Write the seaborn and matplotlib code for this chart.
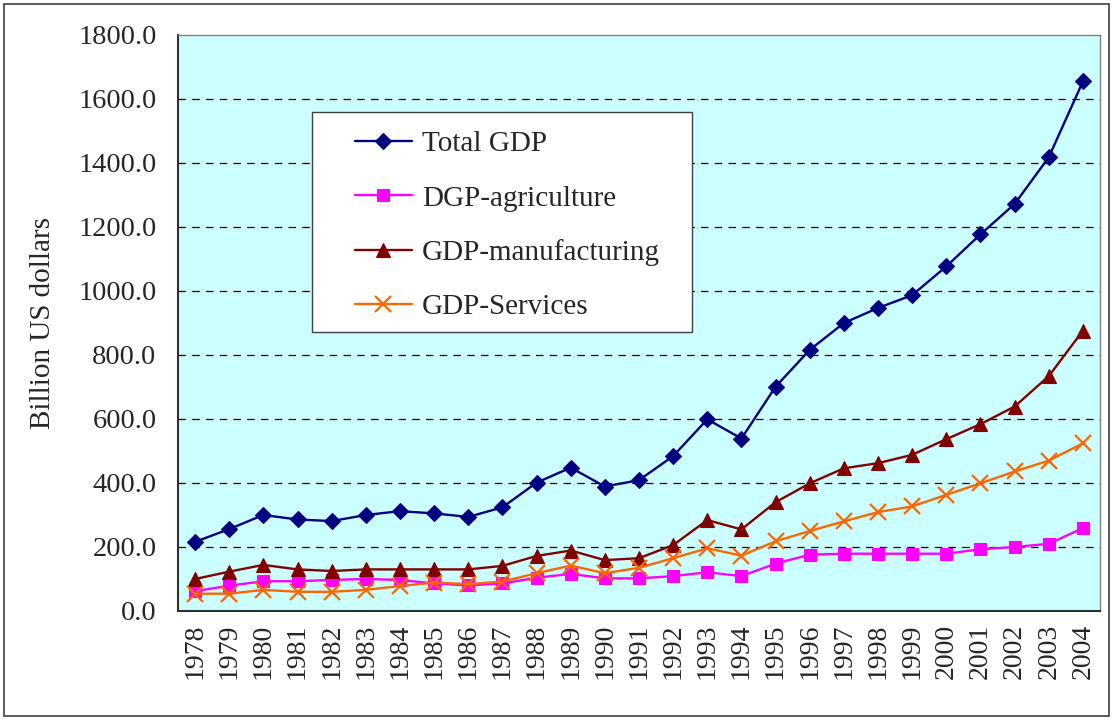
import matplotlib
matplotlib.use("Agg")
import matplotlib.pyplot as plt
import seaborn as sns
import pandas as pd
import numpy as np
from matplotlib.patches import Rectangle

years = [str(y) for y in range(1978, 2005)]
total_gdp = [216, 256, 300, 286, 281, 300, 312, 305, 294, 324, 401, 448, 389, 409,
             484, 599, 539, 701, 816, 900, 947, 987, 1077, 1177, 1272, 1418, 1655]
agriculture = [62, 79, 93, 93, 97, 100, 97, 86, 80, 86, 104, 116, 102, 102,
               109, 121, 109, 148, 176, 179, 179, 179, 179, 193, 200, 210, 259]
manufacturing = [100, 123, 144, 130, 125, 130, 130, 130, 130, 141, 172, 189, 159, 165,
                 206, 284, 255, 340, 399, 446, 462, 488, 537, 584, 639, 734, 876]
services = [54, 54, 66, 60, 60, 66, 78, 89, 84, 92, 118, 142, 118, 135,
            165, 196, 173, 218, 250, 280, 309, 327, 363, 399, 436, 470, 524]

series_names = ["Total GDP", "DGP-agriculture", "GDP-manufacturing", "GDP-Services"]
series_values = [total_gdp, agriculture, manufacturing, services]
y_ticks = [0, 200, 400, 600, 800, 1000, 1200, 1400, 1600, 1800]

colors = ["#000080", "#FF00FF", "#800000", "#FF6600"]
markers = ["D", "s", "^", "x"]
msizes = [8, 8, 10, 12]

sns.set_style("white")
plt.rcParams["font.family"] = ["Liberation Serif", "DejaVu Serif"]

fig = plt.figure(figsize=(11.14, 7.19), dpi=100)
ax = fig.add_axes([178 / 1114, 108 / 719, 922 / 1114, 576 / 719])
ax.set_facecolor("#CCFFFF")

pos = np.arange(len(years))
for name, vals, c, m, ms in zip(series_names, series_values, colors, markers, msizes):
    df = pd.DataFrame({"pos": pos, "value": vals})
    sns.lineplot(data=df, x="pos", y="value", ax=ax, color=c, marker=m,
                 markersize=ms, linewidth=1.7, label=name, zorder=3,
                 markeredgecolor=c, markeredgewidth=1.6 if m == "x" else 0.8)

ax.set_xlim(-0.5, len(years) - 0.5)
ax.set_ylim(0, 1800)
ax.set_yticks(y_ticks)
ax.set_yticklabels([f"{v:.1f}" for v in y_ticks], fontsize=20.5)
ax.set_xticks(pos)
ax.set_xticklabels(years, rotation=90, fontsize=20)
ax.set_xticks(np.arange(-0.5, len(years), 1), minor=True)
ax.tick_params(axis="x", which="major", length=0, pad=9)
ax.tick_params(axis="x", which="minor", length=9, width=1, color="#404040", direction="out")
ax.tick_params(axis="y", which="major", length=8, width=1, color="#404040", direction="out", pad=7.5)
ax.set_xlabel("")
ax.set_ylabel("Billion US dollars", fontsize=21, labelpad=16)

for yv in y_ticks[1:-1]:
    ax.axhline(yv, color="black", linestyle=(0, (6, 5)), linewidth=0.9, zorder=1)

for side in ["left", "bottom"]:
    ax.spines[side].set_color("#303030")
    ax.spines[side].set_linewidth(1.5)
for side in ["top", "right"]:
    ax.spines[side].set_color("#808080")
    ax.spines[side].set_linewidth(1.0)

# legend box
ax.add_patch(Rectangle(((312 - 178) / 922, (611 - 332) / 576), 380 / 922, 220 / 576,
                       transform=ax.transAxes, facecolor="white", edgecolor="#404040",
                       linewidth=1.0, zorder=4))
leg = ax.legend(loc="center left", bbox_to_anchor=((355 - 178) / 922, 0.669), fontsize=21,
                frameon=False, handlelength=1.95, handletextpad=0.34, labelspacing=0.95,
                borderpad=0, borderaxespad=0)
leg.set_zorder(5)

fig.patches.append(Rectangle((4 / 1114, 3 / 719), 1105 / 1114, 712 / 719,
                             transform=fig.transFigure, fill=False,
                             edgecolor="#404040", linewidth=1.2))

fig.savefig("out.png", dpi=100)
